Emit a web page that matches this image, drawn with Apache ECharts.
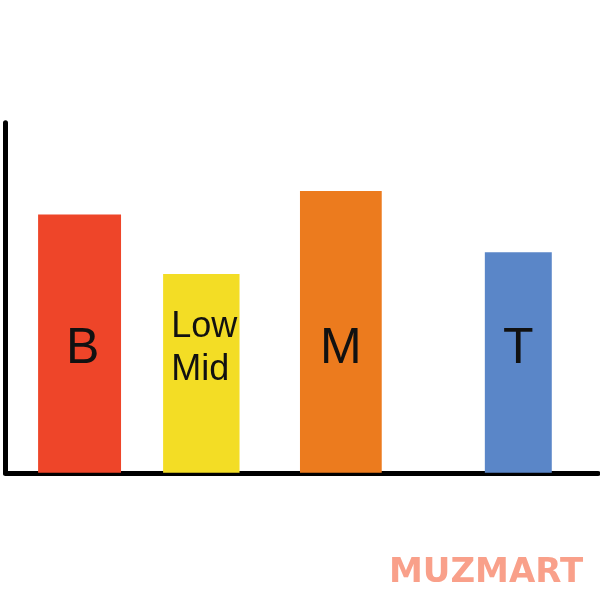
<!DOCTYPE html>
<html><head><meta charset="utf-8">
<script src="https://cdn.jsdelivr.net/npm/echarts@6/dist/echarts.min.js"></script>
<style>html,body{margin:0;padding:0;background:#fff}#c{width:600px;height:600px}</style>
</head><body><div id="c"></div>
<script>
// Band labels and values
const labels = ['B', 'Low\nMid', 'M', 'T'];
const bandStart = [5.5, 26.6, 49.7, 80.9];
const bandEnd = [19.5, 39.5, 63.5, 92.2];
const values = [73.8, 56.8, 80.5, 63.0];
const colors = ['#EE4529', '#F3DD25', '#EC7B1E', '#5A86C8'];
const labelLevel = 35.4;

const data = labels.map((l, i) => [bandStart[i], bandEnd[i], values[i], i]);

const chart = echarts.init(document.getElementById('c'));
chart.setOption({
  animation: false,
  backgroundColor: '#fff',
  grid: { left: 5.5, right: 2, top: 122.7, bottom: 127.2, containLabel: false },
  xAxis: {
    type: 'value', min: 0, max: 100,
    axisLine: { show: true, onZero: false, lineStyle: { color: '#000', width: 5 } },
    axisTick: { show: false }, axisLabel: { show: false }, splitLine: { show: false }
  },
  yAxis: {
    type: 'value', min: 0, max: 100,
    axisLine: { show: true, lineStyle: { color: '#000', width: 5 } },
    axisTick: { show: false }, axisLabel: { show: false }, splitLine: { show: false }
  },
  series: [{
    type: 'custom',
    data: data,
    encode: { x: [0, 1], y: 2 },
    renderItem: function (params, api) {
      const i = api.value(3);
      const p0 = api.coord([api.value(0), 0]);
      const p1 = api.coord([api.value(1), api.value(2)]);
      const lp = api.coord([(api.value(0) + api.value(1)) / 2, labelLevel]);
      const isTwo = labels[i].indexOf('\n') >= 0;
      return {
        type: 'group',
        children: [{
          type: 'rect',
          shape: { x: p0[0], y: p1[1], width: p1[0] - p0[0], height: p0[1] - p1[1] },
          style: { fill: colors[i] }
        }, {
          type: 'text',
          style: {
            text: labels[i],
            x: isTwo ? lp[0] - 30 : lp[0] + (i === 0 ? 3 : 0),
            y: lp[1],
            align: isTwo ? 'left' : 'center', verticalAlign: 'middle',
            font: (isTwo ? '36px' : '50px') + ' "Liberation Sans", Arial, sans-serif',
            lineHeight: isTwo ? 43 : 50,
            fill: '#111'
          }
        }]
      };
    }
  }],
  graphic: [{
    type: 'text', x: 389, y: 573,
    style: { text: 'MUZMART', font: '600 34px "DejaVu Sans", sans-serif', fill: '#F9A08A', verticalAlign: 'middle', align: 'left' }
  }]
});
</script></body></html>
